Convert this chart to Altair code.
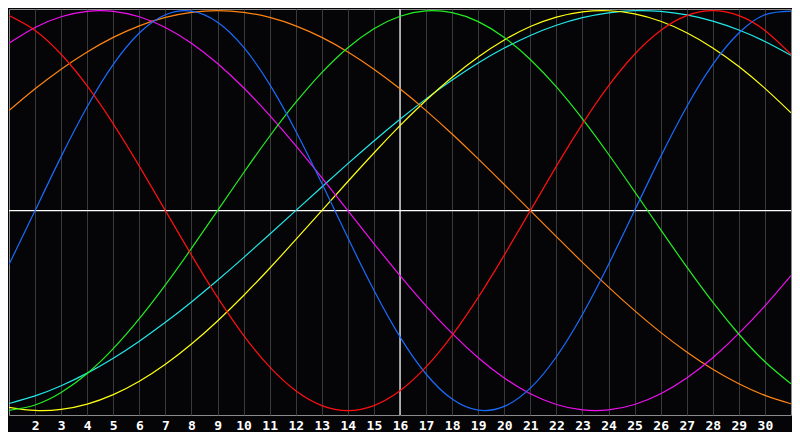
import altair as alt
import pandas as pd

# Days shown on the x axis (plot runs from day 1 to day 31)
days = list(range(1, 32))
tick_days = list(range(2, 31))
today = 16

# Curve values, one per day (day 1 .. day 31)
red = [0.9749, 0.9010, 0.7818, 0.6235, 0.4339, 0.2225, 0.0, -0.2225, -0.4339, -0.6235,
       -0.7818, -0.9010, -0.9749, -1.0, -0.9749, -0.9010, -0.7818, -0.6235, -0.4339, -0.2225,
       0.0, 0.2225, 0.4339, 0.6235, 0.7818, 0.9010, 0.9749, 1.0, 0.9749, 0.9010, 0.7818]
blue = [-0.2698, 0.0, 0.2698, 0.5196, 0.7308, 0.8879, 0.9791, 0.9977, 0.9423, 0.8170,
        0.6311, 0.3984, 0.1362, -0.1362, -0.3984, -0.6311, -0.8170, -0.9423, -0.9977, -0.9791,
        -0.8879, -0.7308, -0.5196, -0.2698, 0.0, 0.2698, 0.5196, 0.7308, 0.8879, 0.9791, 0.9977]
green = [-0.9989, -0.9718, -0.9096, -0.8146, -0.6901, -0.5406, -0.3717, -0.1893, 0.0, 0.1893,
         0.3717, 0.5406, 0.6901, 0.8146, 0.9096, 0.9718, 0.9989, 0.9898, 0.9450, 0.8660,
         0.7557, 0.6182, 0.4582, 0.2817, 0.0951, -0.0951, -0.2817, -0.4582, -0.6182, -0.7557, -0.8660]
magenta = [0.8372, 0.9158, 0.9694, 0.9966, 0.9966, 0.9694, 0.9158, 0.8372, 0.7357, 0.6142,
           0.4759, 0.3247, 0.1646, 0.0, -0.1646, -0.3247, -0.4759, -0.6142, -0.7357, -0.8372,
           -0.9158, -0.9694, -0.9966, -0.9966, -0.9694, -0.9158, -0.8372, -0.7357, -0.6142, -0.4759, -0.3247]
yellow = [-0.9834, -0.9993, -0.9940, -0.9675, -0.9203, -0.8533, -0.7684, -0.6671, -0.5517, -0.4245,
          -0.2881, -0.1456, 0.0, 0.1456, 0.2881, 0.4245, 0.5517, 0.6671, 0.7684, 0.8533,
          0.9203, 0.9675, 0.9940, 0.9993, 0.9834, 0.9465, 0.8894, 0.8135, 0.7202, 0.6112, 0.4894]
orange = [0.5, 0.6088, 0.7071, 0.7934, 0.8660, 0.9239, 0.9659, 0.9914, 1.0, 0.9914,
          0.9659, 0.9239, 0.8660, 0.7934, 0.7071, 0.6088, 0.5, 0.3827, 0.2588, 0.1305,
          0.0, -0.1305, -0.2588, -0.3827, -0.5, -0.6088, -0.7071, -0.7934, -0.8660, -0.9239, -0.9659]
cyan = [-0.9647, -0.9267, -0.8758, -0.8126, -0.7380, -0.6527, -0.5586, -0.4566, -0.3482, -0.2349,
        -0.1183, 0.0, 0.1183, 0.2349, 0.3482, 0.4566, 0.5586, 0.6527, 0.7380, 0.8126,
        0.8758, 0.9267, 0.9647, 0.9890, 0.9996, 0.9961, 0.9785, 0.9473, 0.9028, 0.8456, 0.7764]

series_names = ["cyan", "yellow", "orange", "magenta", "green", "blue", "red"]
series_values = [cyan, yellow, orange, magenta, green, blue, red]
series_colors = ["#22e8e8", "#ffff10", "#ff8410", "#f010f0", "#22ee22", "#1a6cff", "#ff1010"]

rows = []
for name, vals in zip(series_names, series_values):
    for d, v in zip(days, vals):
        rows.append({"day": d, "value": v, "series": name})
df = pd.DataFrame(rows)

x_scale = alt.Scale(domain=[1, 31], nice=False, zero=False)
y_scale = alt.Scale(domain=[-1.022, 1.008], nice=False, zero=False)

x_axis = alt.Axis(
    values=tick_days, grid=True, gridColor="#3a3a3a", gridWidth=1,
    ticks=False, domain=False, title=None, labelColor="#ffffff",
    labelFont="DejaVu Sans Mono", labelFontWeight="bold", labelFontSize=13,
    labelPadding=4, labelFlush=False, labelOverlap=False, format="d",
)

lines = alt.Chart(df).mark_line(strokeWidth=1.2, interpolate="natural", clip=True).encode(
    x=alt.X("day:Q", scale=x_scale, axis=x_axis),
    y=alt.Y("value:Q", scale=y_scale, axis=None),
    color=alt.Color("series:N", scale=alt.Scale(domain=series_names, range=series_colors), legend=None),
    order=alt.Order("day:Q"),
)

hrule = alt.Chart(pd.DataFrame({"value": [0.0]})).mark_rule(color="#ffffff", strokeWidth=1.2).encode(
    y=alt.Y("value:Q", scale=y_scale, axis=None)
)
vrule = alt.Chart(pd.DataFrame({"day": [today]})).mark_rule(color="#ffffff", strokeWidth=1.2).encode(
    x=alt.X("day:Q", scale=x_scale, axis=x_axis)
)

chart = alt.layer(hrule, vrule, lines).properties(
    width=782, height=406, background="#050508", padding=0
).configure_view(
    stroke="#8a8a8a", strokeWidth=1, fill="#050508"
)

chart.save("out.html", embed_options={"renderer": "svg", "actions": False})
